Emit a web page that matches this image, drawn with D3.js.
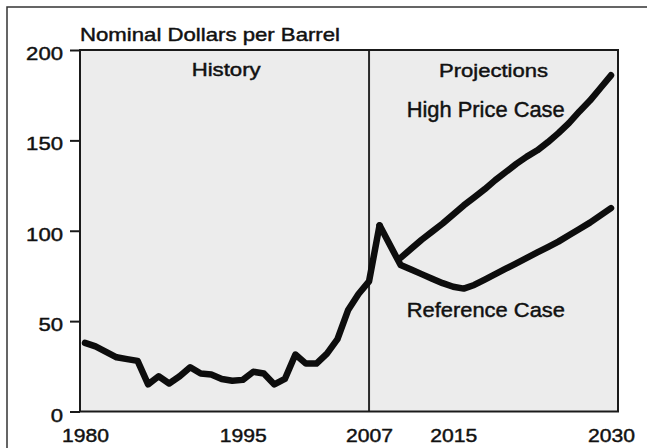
<!DOCTYPE html>
<html>
<head>
<meta charset="utf-8">
<script src="https://cdn.jsdelivr.net/npm/d3@7"></script>
<style>
  html, body { margin: 0; padding: 0; background: #fff; }
  svg { display: block; }
  text { font-family: "Liberation Sans", Arial, Helvetica, sans-serif; fill: #111; stroke: #111; stroke-width: 0.45px; }
</style>
</head>
<body>
<script>
// ---- data ----
const historyYears = d3.range(1980, 2009);
const historyValues = [38, 36, 33, 30, 29, 28, 15, 19.5, 15.5, 19.5, 24.5, 21, 20.5, 18, 17, 17.5,
  22, 21, 15, 18, 31.5, 26.5, 26.5, 32, 40, 56, 65, 72, 103];

const referenceYears = [2008, 2010, 2011, 2012, 2013, 2014, 2015, 2016, 2017, 2018, 2019, 2020,
  2021, 2022, 2023, 2024, 2025, 2026, 2027, 2028, 2029, 2030];
const referenceValues = [103, 81, 78.5, 76, 73.5, 71, 69, 68, 70, 73, 76, 79,
  82, 85, 88, 91, 94, 97.5, 101, 104.5, 108.5, 112.5];

const highYears = d3.range(2010, 2031);
const highValues = [85, 90, 95, 99.5, 104, 109, 114, 118.5, 123, 128, 132.5,
  137, 141, 144.5, 149, 154, 159.5, 166, 172, 179, 186];

const yTicks = [0, 50, 100, 150, 200];
const xTickYears = [1980, 1995, 2007, 2015, 2030];
const splitYear = 2007;

const titleText = "Nominal Dollars per Barrel";
const historyLabel = "History";
const projectionsLabel = "Projections";
const highLabel = "High Price Case";
const refLabel = "Reference Case";

// ---- layout ----
const W = 647, H = 448;
const plot = { left: 80, top: 50, right: 618, bottom: 411.5 };

const svg = d3.select("body").append("svg").attr("width", W).attr("height", H);

const x = d3.scaleLinear().domain([1980, 2030]).range([85, 611]);
const y = d3.scaleLinear().domain([0, 200]).range([plot.bottom, plot.top]);

// outer frame (top + left)
svg.append("path")
  .attr("d", `M7,${H} L7,7 L${W},7`)
  .attr("fill", "none").attr("stroke", "#333").attr("stroke-width", 1.5);

// plot background
svg.append("rect")
  .attr("x", plot.left).attr("y", plot.top)
  .attr("width", plot.right - plot.left).attr("height", plot.bottom - plot.top)
  .attr("fill", "#ececec");

// divider at 2007
svg.append("line")
  .attr("x1", x(splitYear)).attr("x2", x(splitYear))
  .attr("y1", plot.top).attr("y2", plot.bottom)
  .attr("stroke", "#2a2a2a").attr("stroke-width", 2);

// plot frame
svg.append("rect")
  .attr("x", plot.left).attr("y", plot.top)
  .attr("width", plot.right - plot.left).attr("height", plot.bottom - plot.top)
  .attr("fill", "none").attr("stroke", "#1a1a1a").attr("stroke-width", 2);

// y axis
const yAxis = svg.append("g")
  .attr("transform", `translate(${plot.left},0)`)
  .call(d3.axisLeft(y).tickValues(yTicks).tickSize(10).tickPadding(7).tickFormat(d3.format("d")));
yAxis.select(".domain").remove();
yAxis.selectAll(".tick line").attr("stroke", "#1a1a1a").attr("stroke-width", 2);
yAxis.selectAll(".tick text")
  .attr("font-size", 19).attr("fill", "#111")
  .attr("dy", "0.5em")
  .attr("textLength", d => String(d).length * 12.3)
  .attr("lengthAdjust", "spacingAndGlyphs");

// x axis (labels only)
const xAxis = svg.append("g")
  .attr("transform", `translate(0,${plot.bottom})`)
  .call(d3.axisBottom(x).tickValues(xTickYears).tickSize(0).tickPadding(17).tickFormat(d3.format("d")));
xAxis.select(".domain").remove();
xAxis.selectAll(".tick text")
  .attr("font-size", 19).attr("fill", "#111")
  .attr("textLength", 47)
  .attr("lengthAdjust", "spacingAndGlyphs");

// lines
const line = d3.line().x(d => x(d[0])).y(d => y(d[1]));
const series = [
  historyYears.map((yr, i) => [yr, historyValues[i]]),
  referenceYears.map((yr, i) => [yr, referenceValues[i]]),
  highYears.map((yr, i) => [yr, highValues[i]])
];
svg.append("g").selectAll("path").data(series).join("path")
  .attr("d", line)
  .attr("fill", "none")
  .attr("stroke", "#0d0d0d")
  .attr("stroke-width", 6.5)
  .attr("stroke-linejoin", "round")
  .attr("stroke-linecap", "round");

// texts
function label(txt, xPos, yPos, size, len) {
  svg.append("text")
    .attr("x", xPos).attr("y", yPos)
    .attr("font-size", size)
    .attr("textLength", len)
    .attr("lengthAdjust", "spacingAndGlyphs")
    .text(txt);
}
label(titleText, 80, 40.7, 19, 260);
label(historyLabel, 191.7, 75.7, 18.7, 69);
label(projectionsLabel, 439, 76.7, 18.7, 109);
label(highLabel, 406.7, 117.3, 21.8, 158);
label(refLabel, 406.7, 317.3, 20.5, 158.3);
</script>
</body>
</html>
